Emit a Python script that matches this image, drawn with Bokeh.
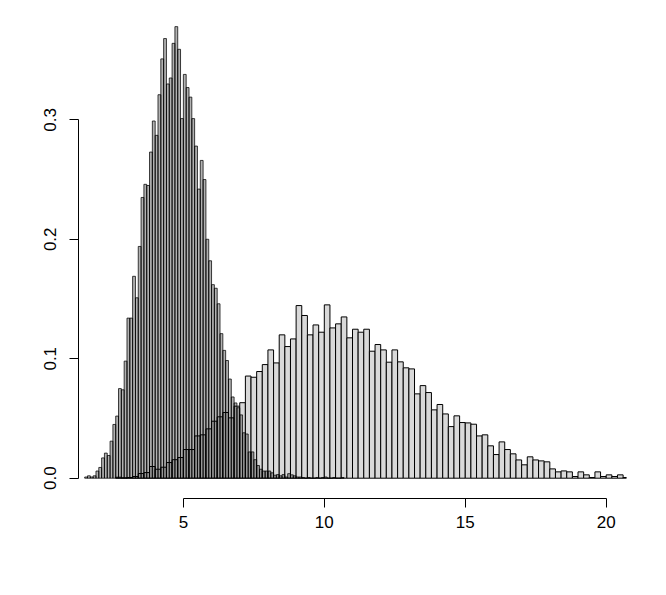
import numpy as np
from bokeh.plotting import figure
from bokeh.models import FixedTicker, PrintfTickFormatter, Range1d
from bokeh.embed import file_html
from bokeh.resources import INLINE

# ---- data: densities ----
# light histogram: bins of width 0.2 starting at 2.6
light_start = 2.6
light_width = 0.2
light_density = [
    0.0008, 0.0003, 0.0006, 0.0014, 0.0039, 0.0047, 0.0098, 0.0075, 0.0092, 0.0131,
    0.0155, 0.0173, 0.0240, 0.0240, 0.0354, 0.0363, 0.0413, 0.0477, 0.0514, 0.0550,
    0.0505, 0.0603, 0.0632, 0.0855, 0.0845, 0.0893, 0.0951, 0.1074, 0.0965, 0.1200,
    0.1102, 0.1166, 0.1445, 0.1362, 0.1200, 0.1283, 0.1222, 0.1451, 0.1258, 0.1292,
    0.1350, 0.1175, 0.1247, 0.1222, 0.1247, 0.1063, 0.1119, 0.1074, 0.0971, 0.1074,
    0.0974, 0.0924, 0.0915, 0.0706, 0.0775, 0.0717, 0.0572, 0.0617, 0.0538, 0.0432,
    0.0522, 0.0466, 0.0463, 0.0452, 0.0354, 0.0363, 0.0271, 0.0198, 0.0304, 0.0240,
    0.0204, 0.0153, 0.0112, 0.0179, 0.0153, 0.0145, 0.0137, 0.0078, 0.0053, 0.0061,
    0.0053, 0.0014, 0.0053, 0.0028, 0.0006, 0.0053, 0.0014, 0.0028, 0.0014, 0.0028,
    0.0006, 0.0006,
]

# dark histogram: bins of width 0.1 starting at 1.5
dark_start = 1.5
dark_width = 0.1
dark_density = [
    0.001, 0.002, 0.001, 0.002, 0.006, 0.009, 0.017, 0.021, 0.019, 0.031,
    0.045, 0.052, 0.075, 0.074, 0.098, 0.134, 0.134, 0.169, 0.151, 0.194,
    0.235, 0.246, 0.245, 0.273, 0.299, 0.287, 0.321, 0.351, 0.368, 0.330,
    0.335, 0.364, 0.378, 0.359, 0.301, 0.338, 0.327, 0.319, 0.301, 0.278,
    0.242, 0.266, 0.250, 0.200, 0.182, 0.162, 0.159, 0.146, 0.121, 0.107,
    0.0985, 0.083, 0.068, 0.063, 0.059, 0.053, 0.038, 0.037, 0.022, 0.022,
    0.0155, 0.0106, 0.0075, 0.006, 0.006, 0.006, 0.0045, 0.0025, 0.003, 0.002,
    0.003, 0.001, 0.0038, 0.0028, 0.002, 0.001, 0.001, 0.0006, 0.0, 0.0006,
    0.0, 0.0, 0.0006, 0.0, 0.0006, 0.001, 0.0, 0.0, 0.0006, 0.0,
    0.0, 0.0006,
]

x_ticks = [5, 10, 15, 20]
y_ticks = [0.0, 0.1, 0.2, 0.3]

# ---- figure ----
p = figure(width=650, height=579, output_backend="svg", toolbar_location=None,
           x_range=Range1d(1.28, 20.72), y_range=Range1d(-0.01699, 0.3915),
           min_border_left=78, min_border_right=24, min_border_top=10,
           min_border_bottom=81)
p.outline_line_color = None
p.xgrid.visible = False
p.ygrid.visible = False
p.background_fill_color = "white"
p.border_fill_color = "white"

ll = light_start + light_width * np.arange(len(light_density))
p.quad(left=ll, right=ll + light_width, bottom=0, top=light_density,
       fill_color="#d9d9d9", line_color="black", line_width=1)

dl = dark_start + dark_width * np.arange(len(dark_density))
p.quad(left=dl, right=dl + dark_width, bottom=0, top=dark_density,
       fill_color="black", fill_alpha=0.3, line_color="black", line_width=0.75)

for ax, ticks in ((p.xaxis[0], x_ticks), (p.yaxis[0], y_ticks)):
    ax.ticker = FixedTicker(ticks=ticks, minor_ticks=[])
    ax.bounds = (ticks[0], ticks[-1])
    ax.major_tick_out = 9
    ax.major_tick_in = 0
    ax.minor_tick_out = 0
    ax.minor_tick_in = 0
    ax.axis_line_color = "black"
    ax.major_tick_line_color = "black"
    ax.major_label_text_font = "Liberation Sans"
    ax.major_label_text_font_size = "17px"
    ax.major_label_text_color = "black"

p.xaxis[0].major_label_standoff = 8
p.yaxis[0].formatter = PrintfTickFormatter(format="%.1f")
p.yaxis[0].major_label_orientation = "vertical"
p.yaxis[0].major_label_standoff = 13

open("out.html", "w").write(file_html(p, INLINE))
